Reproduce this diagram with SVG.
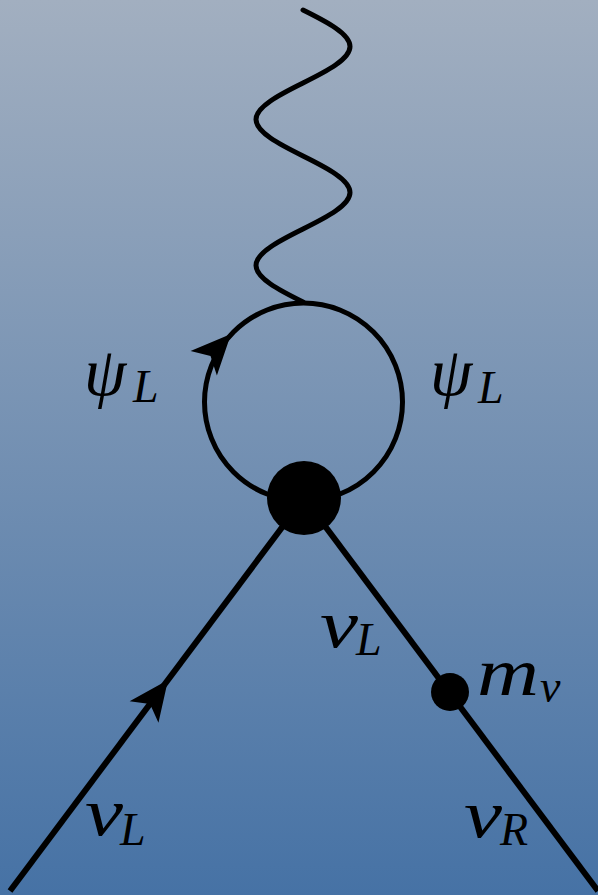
<svg xmlns="http://www.w3.org/2000/svg" width="598" height="895" viewBox="0 0 598 895">
  <defs>
    <linearGradient id="bg" x1="0" y1="0" x2="0" y2="1">
      <stop offset="0" stop-color="#a2afc0"/>
      <stop offset="1" stop-color="#4672a5"/>
    </linearGradient>
    <path id="arrowhead" d="M0,0 L-40,-18 L-30,0 L-40,18 Z"/>
  </defs>
  <style>
    .line { fill: none; stroke: #000; stroke-width: 6; }
    .loop { fill: none; stroke: #000; stroke-width: 5; }
    .wave { fill: none; stroke: #000; stroke-width: 5; stroke-linecap: round; }
    .lbl { font-family: "Liberation Serif", "DejaVu Serif", serif; font-style: italic; fill: #000; }
    .main { font-size: 68px; }
    .sub { font-size: 46px; }
  </style>
  <rect x="0" y="0" width="598" height="895" fill="url(#bg)"/>

  <g id="connectors">
    <path id="photon" class="wave" d="M303,10 C327.05,21.9 350,33.8 350,46.5 C350,59.2 327.05,71.1 303,83 C278.95,94.9 256,106.8 256,119.5 C256,132.2 278.95,144.1 303,156 C327.05,167.9 350,179.8 350,192.5 C350,205.2 327.05,217.1 303,229 C278.95,240.9 256,252.8 256,265.5 C256,278.2 278.95,290.1 303,302"/>
    <circle id="loop" class="loop" cx="303.5" cy="402" r="99"/>
    <line id="nu-in" class="line" x1="10" y1="891" x2="304" y2="498"/>
    <line id="nu-out" class="line" x1="304" y1="498" x2="598" y2="891"/>
    <use href="#arrowhead" transform="translate(168,680) rotate(-53.2)"/>
    <use href="#arrowhead" transform="translate(231,334) rotate(-47)"/>
  </g>

  <g id="vertex">
    <circle cx="304" cy="498" r="37" fill="#000"/>
  </g>
  <g id="mass-insertion">
    <circle cx="450" cy="692" r="19" fill="#000"/>
  </g>

  <g id="labels">
    <text class="lbl main" x="84" y="395">ψ<tspan class="sub" x="133" y="402">L</tspan></text>
    <text class="lbl main" x="430" y="395">ψ<tspan class="sub" x="478" y="403">L</tspan></text>
    <text class="lbl main" x="320" y="647"><tspan textLength="38" lengthAdjust="spacingAndGlyphs">ν</tspan><tspan class="sub" x="356" y="655">L</tspan></text>
    <text class="lbl main" x="85" y="835"><tspan textLength="38" lengthAdjust="spacingAndGlyphs">ν</tspan><tspan class="sub" x="120" y="845">L</tspan></text>
    <text class="lbl main" x="464" y="837"><tspan textLength="38" lengthAdjust="spacingAndGlyphs">ν</tspan><tspan class="sub" x="500" y="845">R</tspan></text>
    <text class="lbl main" x="477" y="695"><tspan textLength="62" lengthAdjust="spacingAndGlyphs">m</tspan><tspan class="sub" x="540" y="702">ν</tspan></text>
  </g>
</svg>
